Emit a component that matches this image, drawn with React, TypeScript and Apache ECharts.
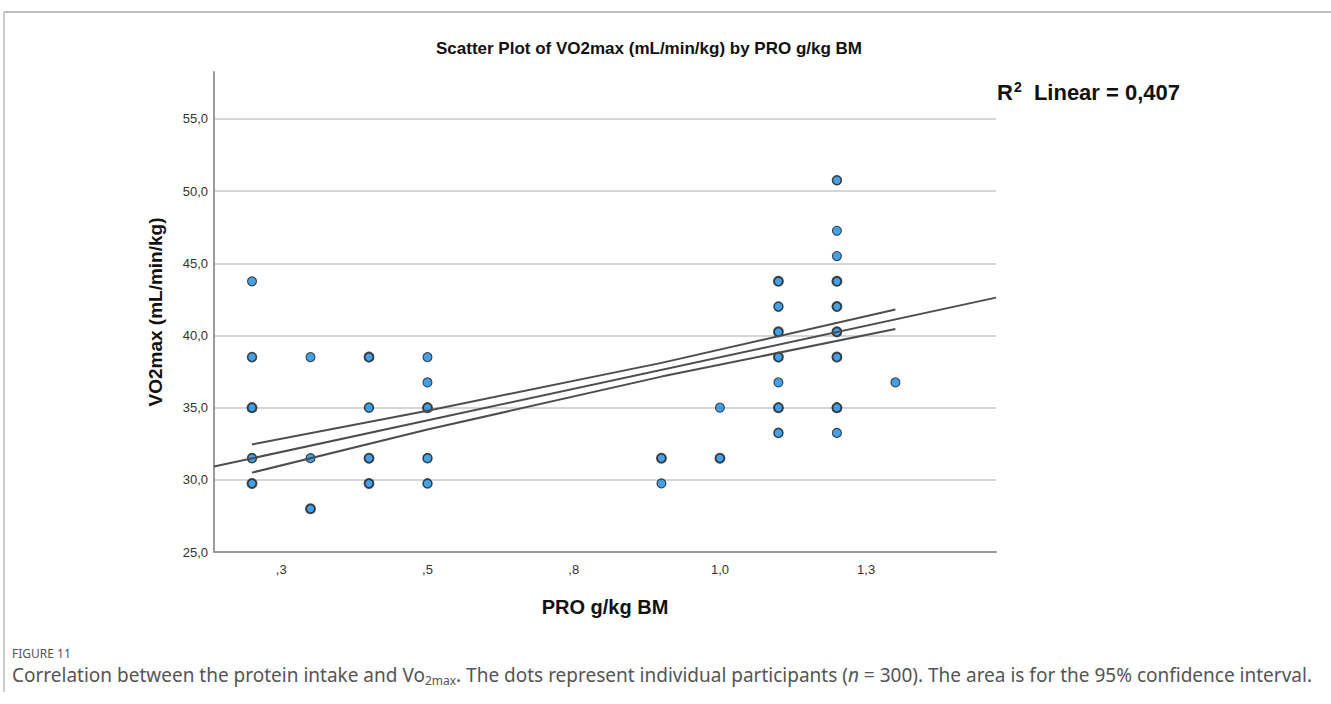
import { useEffect, useRef } from "react";
import * as echarts from "echarts";

// Protein intake (g/kg body mass) and VO2max (mL/min/kg) for each plotted dot.
// stack = how many participants share the dot (drawn as a heavier outline).
const proValues = [
  0.2, 0.2, 0.2, 0.2, 0.2,
  0.3, 0.3, 0.3,
  0.4, 0.4, 0.4, 0.4,
  0.5, 0.5, 0.5, 0.5, 0.5,
  0.9, 0.9,
  1.0, 1.0,
  1.1, 1.1, 1.1, 1.1, 1.1, 1.1, 1.1,
  1.2, 1.2, 1.2, 1.2, 1.2, 1.2, 1.2, 1.2, 1.2,
  1.3,
];
const vo2Values = [
  43.75, 38.5, 35.0, 31.5, 29.75,
  38.5, 31.5, 28.0,
  38.5, 35.0, 31.5, 29.75,
  38.5, 36.75, 35.0, 31.5, 29.75,
  31.5, 29.75,
  35.0, 31.5,
  43.75, 42.0, 40.25, 38.5, 36.75, 35.0, 33.25,
  50.75, 47.25, 45.5, 43.75, 42.0, 40.25, 38.5, 35.0, 33.25,
  36.75,
];
const stackCounts = [
  1, 2, 3, 2, 3,
  1, 1, 3,
  3, 2, 3, 3,
  1, 1, 3, 2, 2,
  3, 1,
  1, 3,
  3, 2, 3, 3, 1, 3, 2,
  2, 1, 1, 3, 3, 3, 3, 3, 1,
  1,
];

// Linear fit y = a + b*x and its 95% confidence band
const fitIntercept = 29.74;
const fitSlope = 8.75;
const fitLabel = "y=29,74+8,75*x";
const r2Label = "0,407";
const ciX = [0.2, 0.5, 0.9, 1.3];
const ciUpper = [32.45, 34.79, 38.1, 41.8];
const ciLower = [30.5, 33.48, 37.15, 40.45];

// Axis extents and tick labels
const xMin = 0.135;
const xMax = 1.472;
const xTickValues = [0.25, 0.5, 0.75, 1.0, 1.25];
const xTickLabels = [",3", ",5", ",8", "1,0", "1,3"];
const yMin = 25;
const yMax = 58.25;
const yInterval = 5;

const labelPos = [0.803, 36.7];

const SPSS_FONT = '"Liberation Sans", Arial, sans-serif';
const CAPTION_FONT = '"Noto Sans", sans-serif';

export default function App() {
  const ref = useRef<HTMLDivElement>(null);

  useEffect(() => {
    if (!ref.current) return;
    const chart = echarts.init(ref.current, undefined, { renderer: "svg" });

    const points = proValues.map((x, i) => ({
      value: [x, vo2Values[i]],
      itemStyle: { borderWidth: 0.6 + 0.45 * stackCounts[i] },
    }));

    const fitLine = [xMin, xMax].map((x) => [x, fitIntercept + fitSlope * x]);
    const upper = ciX.map((x, i) => [x, ciUpper[i]]);
    const lower = ciX.map((x, i) => [x, ciLower[i]]);

    const lineStyle = { color: "#4d4d4d", width: 2 };

    chart.setOption({
      animation: false,
      backgroundColor: "#ffffff",
      grid: { left: 214, right: 335, top: 72, bottom: 152 },
      xAxis: {
        type: "value",
        min: xMin,
        max: xMax,
        name: "PRO g/kg BM",
        nameLocation: "middle",
        nameGap: 45,
        nameTextStyle: { fontFamily: SPSS_FONT, fontWeight: "bold", fontSize: 20, color: "#111" },
        axisLine: { show: true, onZero: false, lineStyle: { color: "#9b9b9b", width: 2 } },
        axisTick: { show: false },
        splitLine: { show: false },
        axisLabel: {
          customValues: xTickValues,
          formatter: (v: number) => {
            const idx = xTickValues.findIndex((t) => Math.abs(t - v) < 1e-6);
            return idx >= 0 ? xTickLabels[idx] : "";
          },
          margin: 11,
          fontFamily: SPSS_FONT,
          fontSize: 13,
          color: "#333",
        },
      },
      yAxis: {
        type: "value",
        min: yMin,
        max: yMax,
        interval: yInterval,
        name: "VO2max (mL/min/kg)",
        nameLocation: "middle",
        nameGap: 49,
        nameRotate: 90,
        nameTextStyle: { fontFamily: SPSS_FONT, fontWeight: "bold", fontSize: 19, color: "#111" },
        axisLine: { show: true, lineStyle: { color: "#9b9b9b", width: 2 } },
        axisTick: { show: false },
        axisLabel: {
          showMaxLabel: false,
          formatter: (v: number) => v.toFixed(1).replace(".", ","),
          margin: 6,
          fontFamily: SPSS_FONT,
          fontSize: 13,
          color: "#333",
        },
        splitLine: { show: true, showMaxLine: false, showMinLine: false, lineStyle: { color: "#d6d6d6", width: 2 } },
      },
      series: [
        {
          type: "scatter",
          data: points,
          symbolSize: 9,
          itemStyle: { color: "#1689e0", borderColor: "#1a1a1a" },
          z: 2,
        },
        { type: "line", data: upper, showSymbol: false, lineStyle, z: 3 },
        { type: "line", data: fitLine, showSymbol: false, lineStyle, z: 3 },
        { type: "line", data: lower, showSymbol: false, lineStyle, z: 3 },
        {
          type: "scatter",
          data: [labelPos],
          symbolSize: 1,
          itemStyle: { opacity: 0 },
          z: 5,
          label: {
            show: true,
            position: "inside",
            formatter: fitLabel,
            fontFamily: SPSS_FONT,
            fontSize: 14,
            color: "#333",
            backgroundColor: "#ffffff",
            borderColor: "#4d4d4d",
            borderWidth: 1,
            padding: [5, 3, 4, 3],
          },
        },
      ],
      graphic: [
        // figure frame
        { type: "line", shape: { x1: 4, y1: 12, x2: 1331, y2: 12 }, style: { stroke: "#bdbdbd", lineWidth: 2 } },
        { type: "line", shape: { x1: 4, y1: 12, x2: 4, y2: 692 }, style: { stroke: "#bdbdbd", lineWidth: 1.5 } },
        {
          type: "text",
          x: 649,
          y: 48,
          style: {
            text: "Scatter Plot of VO2max (mL/min/kg) by PRO g/kg BM",
            font: `bold 17px ${SPSS_FONT}`,
            fill: "#111",
            textAlign: "center",
            textVerticalAlign: "middle",
          },
        },
        {
          type: "text",
          x: 997,
          y: 92,
          style: {
            text: `{r|R}{sup|2}{r|  Linear = ${r2Label}}`,
            textVerticalAlign: "middle",
            rich: {
              r: { fontFamily: SPSS_FONT, fontWeight: "bold", fontSize: 22, fill: "#111" },
              sup: { fontFamily: SPSS_FONT, fontWeight: "bold", fontSize: 14, fill: "#111", verticalAlign: "top", padding: [0, 0, 10, 1] },
            },
          },
        },
        {
          type: "text",
          x: 12,
          y: 653,
          style: {
            text: "FIGURE 11",
            font: `12px ${CAPTION_FONT}`,
            fill: "#555",
            textVerticalAlign: "middle",
          },
        },
        {
          type: "text",
          x: 12,
          y: 675,
          style: {
            text: "{t|Correlation between the protein intake and Vo}{sub|2max}{t|. The dots represent individual participants (}{it|n}{t| = 300). The area is for the 95% confidence interval.}",
            textVerticalAlign: "middle",
            rich: {
              t: { fontFamily: CAPTION_FONT, fontSize: 19, fill: "#555", lineHeight: 24, verticalAlign: "middle" },
              it: { fontFamily: CAPTION_FONT, fontSize: 19, fontStyle: "italic", fill: "#555", lineHeight: 24, verticalAlign: "middle" },
              sub: { fontFamily: CAPTION_FONT, fontSize: 12, fill: "#555", lineHeight: 12, verticalAlign: "bottom", padding: [0, 0, 1, 0] },
            },
          },
        },
      ],
    });

    return () => chart.dispose();
  }, []);

  return (
    <div
      ref={ref}
      style={{ position: "fixed", left: 0, top: 0, width: 1331, height: 704 }}
    />
  );
}
